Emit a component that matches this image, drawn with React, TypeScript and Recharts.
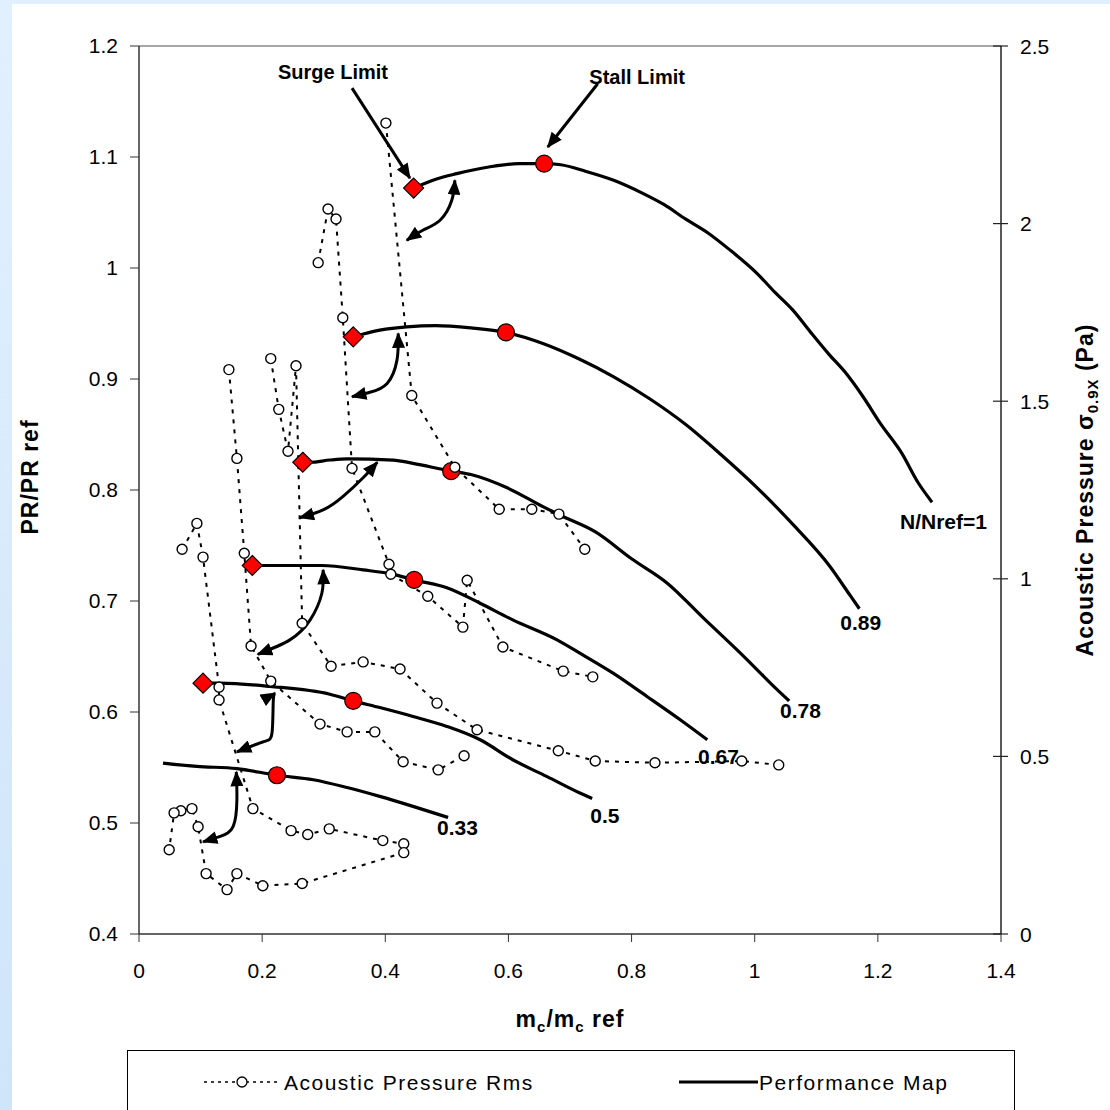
import { ComposedChart, Line, XAxis, YAxis, ReferenceLine, ReferenceDot } from "recharts";

type Pt = [number, number];

const FONT = '"Liberation Sans", Arial, sans-serif';

// Performance map, one line per corrected speed: [mc/mc ref, PR/PR ref]
const speed100: Pt[] = [
  [0.446, 1.072], [0.482, 1.08], [0.516, 1.085], [0.568, 1.091], [0.616, 1.094],
  [0.658, 1.094], [0.685, 1.093], [0.726, 1.087], [0.771, 1.079], [0.819, 1.067],
  [0.853, 1.057], [0.888, 1.044], [0.923, 1.032], [0.958, 1.017], [1.004, 0.995],
  [1.033, 0.978], [1.062, 0.962], [1.091, 0.942], [1.121, 0.922], [1.147, 0.906],
  [1.176, 0.884], [1.204, 0.86], [1.239, 0.833], [1.265, 0.807], [1.288, 0.789],
];
const speed089: Pt[] = [
  [0.348, 0.938], [0.391, 0.944], [0.435, 0.947], [0.482, 0.948], [0.539, 0.946],
  [0.596, 0.942], [0.656, 0.932], [0.715, 0.918], [0.771, 0.902], [0.83, 0.882],
  [0.888, 0.859], [0.945, 0.832], [1.004, 0.802], [1.062, 0.769], [1.121, 0.732],
  [1.155, 0.705], [1.17, 0.693],
];
const speed078: Pt[] = [
  [0.266, 0.825], [0.278, 0.825], [0.31, 0.827], [0.338, 0.828], [0.413, 0.827],
  [0.445, 0.824], [0.507, 0.817], [0.539, 0.814], [0.598, 0.802], [0.656, 0.785],
  [0.685, 0.777], [0.742, 0.762], [0.8, 0.738], [0.858, 0.716], [0.916, 0.685],
  [0.973, 0.655], [1.004, 0.638], [1.033, 0.622], [1.056, 0.61],
];
const speed067: Pt[] = [
  [0.184, 0.732], [0.297, 0.732], [0.364, 0.728], [0.413, 0.724], [0.447, 0.719],
  [0.5, 0.712], [0.554, 0.698], [0.607, 0.683], [0.679, 0.665], [0.716, 0.653],
  [0.77, 0.635], [0.825, 0.614], [0.879, 0.593], [0.923, 0.575],
];
const speed050: Pt[] = [
  [0.104, 0.626], [0.132, 0.626], [0.213, 0.623], [0.31, 0.616], [0.348, 0.61],
  [0.391, 0.604], [0.445, 0.596], [0.5, 0.587], [0.554, 0.575], [0.607, 0.557],
  [0.662, 0.542], [0.716, 0.527], [0.736, 0.522],
];
const speed033: Pt[] = [
  [0.039, 0.554], [0.094, 0.551], [0.159, 0.549], [0.224, 0.543], [0.283, 0.539],
  [0.338, 0.532], [0.391, 0.524], [0.445, 0.515], [0.502, 0.505],
];

// Acoustic pressure rms, one run per speed: [mc/mc ref, sigma 0.9X (Pa)]
const acoustic100: Pt[] = [
  [0.401, 2.283], [0.443, 1.516], [0.513, 1.314], [0.585, 1.196], [0.638, 1.196],
  [0.682, 1.182], [0.724, 1.083],
];
const acoustic089: Pt[] = [
  [0.291, 1.89], [0.307, 2.041], [0.32, 2.013], [0.331, 1.735], [0.346, 1.311],
  [0.406, 1.041], [0.409, 1.013], [0.469, 0.951], [0.526, 0.864], [0.533, 0.996],
  [0.591, 0.808], [0.689, 0.74], [0.737, 0.724],
];
const acoustic078: Pt[] = [
  [0.214, 1.62], [0.227, 1.477], [0.242, 1.359], [0.255, 1.6], [0.265, 0.875],
  [0.312, 0.754], [0.364, 0.766], [0.424, 0.746], [0.484, 0.65], [0.549, 0.575],
  [0.681, 0.516], [0.741, 0.487], [0.838, 0.482], [0.979, 0.487], [1.039, 0.476],
];
const acoustic067: Pt[] = [
  [0.146, 1.589], [0.159, 1.339], [0.171, 1.072], [0.182, 0.811], [0.214, 0.712],
  [0.294, 0.591], [0.338, 0.569], [0.383, 0.569], [0.429, 0.485], [0.486, 0.462],
  [0.528, 0.502],
];
const acoustic050: Pt[] = [
  [0.07, 1.083], [0.094, 1.156], [0.104, 1.061], [0.13, 0.695], [0.13, 0.659],
  [0.185, 0.353], [0.247, 0.291], [0.274, 0.28], [0.309, 0.296], [0.396, 0.263],
  [0.43, 0.254], [0.43, 0.229], [0.265, 0.142], [0.201, 0.136], [0.159, 0.17],
  [0.143, 0.125], [0.109, 0.17], [0.096, 0.302], [0.086, 0.353], [0.068, 0.347],
  [0.057, 0.341], [0.049, 0.237],
];

// Stall (circle) and surge (diamond) points on each speed line
const stallPoints: Pt[] = [
  [0.658, 1.094], [0.596, 0.942], [0.507, 0.817], [0.447, 0.719], [0.348, 0.61], [0.224, 0.543],
];
const surgePoints: Pt[] = [
  [0.446, 1.072], [0.348, 0.938], [0.266, 0.825], [0.184, 0.732], [0.104, 0.626],
];

// Double arrows from each speed line down to the jump in acoustic level
const jumpArrows: Pt[][] = [
  [[0.513, 1.079], [0.508, 1.061], [0.489, 1.043], [0.461, 1.034], [0.435, 1.025]],
  [[0.421, 0.941], [0.419, 0.917], [0.403, 0.896], [0.375, 0.888], [0.346, 0.884]],
  [[0.387, 0.825], [0.364, 0.811], [0.331, 0.794], [0.299, 0.782], [0.261, 0.775]],
  [[0.299, 0.728], [0.297, 0.707], [0.278, 0.683], [0.245, 0.665], [0.193, 0.652]],
  [[0.221, 0.617], [0.218, 0.609], [0.216, 0.581], [0.201, 0.573], [0.159, 0.564]],
  [[0.158, 0.546], [0.159, 0.521], [0.153, 0.497], [0.132, 0.488], [0.104, 0.483]],
];
const surgeLimitArrow: Pt[] = [[0.346, 1.162], [0.44, 1.081]];
const stallLimitArrow: Pt[] = [[0.745, 1.166], [0.664, 1.109]];

const speedLabels = ["N/Nref=1", "0.89", "0.78", "0.67", "0.5", "0.33"];
const speedLabelAt: Pt[] = [
  [1.236, 0.765], [1.139, 0.674], [1.041, 0.595], [0.908, 0.553], [0.733, 0.5], [0.484, 0.489],
];

const xTicks = [0, 0.2, 0.4, 0.6, 0.8, 1, 1.2, 1.4];
const prTicks = [0.4, 0.5, 0.6, 0.7, 0.8, 0.9, 1, 1.1, 1.2];
const acTicks = [0, 0.5, 1, 1.5, 2, 2.5];

const rows = (pts: Pt[]) => pts.map(([x, y]) => ({ x, y }));

const speedLines = [speed100, speed089, speed078, speed067, speed050, speed033];
const acousticRuns = [acoustic100, acoustic089, acoustic078, acoustic067, acoustic050];

const OpenCircle = (p: any) => (
  <circle key={`o${p.index}`} cx={p.cx} cy={p.cy} r={5} fill="#fff" stroke="#000" strokeWidth={1.4} />
);
const StallDot = (p: any) => (
  <circle key={`s${p.index}`} cx={p.cx} cy={p.cy} r={8.5} fill="#FF0000" stroke="#000" strokeWidth={1.2} />
);
const SurgeDot = (p: any) => {
  const d = 10;
  return (
    <path
      key={`d${p.index}`}
      d={`M${p.cx},${p.cy - d} L${p.cx + d},${p.cy} L${p.cx},${p.cy + d} L${p.cx - d},${p.cy} Z`}
      fill="#FF0000"
      stroke="#000"
      strokeWidth={1.2}
    />
  );
};

const RightTick = (p: any) => {
  const ax = p.x - 19;
  return (
    <g>
      <line x1={ax - 8} x2={ax + 7} y1={p.y} y2={p.y} stroke="#222" strokeWidth={1.2} />
      <text x={p.x} y={p.y} dy="0.36em" fontSize={21} fontFamily={FONT} fill="#000">
        {p.payload.value}
      </text>
    </g>
  );
};

const textLabel = (text: string, size: number, anchor: "start" | "middle") => (p: any) => (
  <text x={p.cx} y={p.cy} fontSize={size} fontWeight="bold" fontFamily={FONT} textAnchor={anchor} fill="#000">
    {text}
  </text>
);

export default function App() {
  return (
    <div style={{ position: "absolute", left: 0, top: 0, width: 1110, height: 1110, overflow: "hidden", background: "linear-gradient(#E1F0FE, #CFE5FA)" }}>
      <div style={{ position: "absolute", left: 12, top: 4, right: 0, bottom: 0, background: "#fff" }} />
      <div style={{ position: "absolute", left: 0, top: 0 }}>
        <ComposedChart width={1110} height={1045} margin={{ top: 46, right: 0, bottom: 51, left: 0 }}>
          <defs>
            <marker id="arrowHead" viewBox="0 0 12 10" refX="11" refY="5" markerWidth="16" markerHeight="13" markerUnits="userSpaceOnUse" orient="auto-start-reverse">
              <path d="M0,0 L12,5 L0,10 z" fill="#000" />
            </marker>
          </defs>
          <XAxis
            type="number"
            dataKey="x"
            domain={[0, 1.4]}
            ticks={xTicks}
            interval={0}
            height={60}
            tickSize={8}
            tickMargin={21}
            axisLine={{ stroke: "#333", strokeWidth: 1.5 }}
            tickLine={{ stroke: "#333" }}
            tick={{ fontSize: 21, fill: "#000", fontFamily: FONT }}
            label={(p: any) => {
              const vb = p.viewBox;
              return (
                <text x={vb.x + vb.width / 2} y={1027} textAnchor="middle" fontSize={23} fontWeight="bold" fontFamily={FONT} letterSpacing={1} fill="#000">
                  <tspan>m</tspan>
                  <tspan fontSize={15} dy={5}>c</tspan>
                  <tspan dy={-5}>/m</tspan>
                  <tspan fontSize={15} dy={5}>c</tspan>
                  <tspan dy={-5}> ref</tspan>
                </text>
              );
            }}
          />
          <YAxis
            yAxisId="pr"
            type="number"
            domain={[0.4, 1.2]}
            ticks={prTicks}
            interval={0}
            width={139}
            tickSize={9}
            tickMargin={12}
            axisLine={{ stroke: "#333", strokeWidth: 1.5 }}
            tickLine={{ stroke: "#333" }}
            tick={{ fontSize: 21, fill: "#000", fontFamily: FONT }}
            label={(p: any) => {
              const vb = p.viewBox;
              return (
                <text transform={`translate(${vb.x + 38}, ${vb.y + vb.height / 2 - 13}) rotate(-90)`} textAnchor="middle" fontSize={23} fontWeight="bold" fontFamily={FONT} letterSpacing={1} fill="#000">
                  PR/PR ref
                </text>
              );
            }}
          />
          <YAxis
            yAxisId="ac"
            orientation="right"
            type="number"
            domain={[0, 2.5]}
            ticks={acTicks}
            interval={0}
            width={109}
            tickSize={8}
            tickMargin={11}
            axisLine={{ stroke: "#222", strokeWidth: 1.5 }}
            tickLine={false}
            tick={RightTick}
            label={(p: any) => {
              const vb = p.viewBox;
              return (
                <text transform={`translate(${vb.x + 92}, ${vb.y + vb.height / 2}) rotate(-90)`} textAnchor="middle" fontSize={23} fontWeight="bold" fontFamily={FONT} letterSpacing={1} fill="#000">
                  <tspan>Acoustic Pressure  σ</tspan>
                  <tspan fontSize={15} dy={5}>0.9X</tspan>
                  <tspan dy={-5}> (Pa)</tspan>
                </text>
              );
            }}
          />
          <ReferenceLine yAxisId="pr" y={1.2} stroke="#888" strokeWidth={1.5} />

          {/* stall and surge markers sit under the speed lines */}
          <Line yAxisId="pr" data={rows(stallPoints)} dataKey="y" stroke="none" dot={StallDot} activeDot={false} legendType="none" isAnimationActive={false} />
          <Line yAxisId="pr" data={rows(surgePoints)} dataKey="y" stroke="none" dot={SurgeDot} activeDot={false} legendType="none" isAnimationActive={false} />

          {speedLines.map((pts, i) => (
            <Line key={`speed${i}`} yAxisId="pr" data={rows(pts)} dataKey="y" type="monotone" stroke="#000" strokeWidth={3.2} dot={false} activeDot={false} isAnimationActive={false} />
          ))}

          {jumpArrows.map((pts, i) => (
            <Line key={`jump${i}`} yAxisId="pr" data={rows(pts)} dataKey="y" type="natural" stroke="#000" strokeWidth={3} dot={false} activeDot={false} legendType="none" markerStart="url(#arrowHead)" markerEnd="url(#arrowHead)" isAnimationActive={false} />
          ))}
          <Line yAxisId="pr" data={rows(surgeLimitArrow)} dataKey="y" stroke="#000" strokeWidth={3} dot={false} activeDot={false} legendType="none" markerEnd="url(#arrowHead)" isAnimationActive={false} />
          <Line yAxisId="pr" data={rows(stallLimitArrow)} dataKey="y" stroke="#000" strokeWidth={3} dot={false} activeDot={false} legendType="none" markerEnd="url(#arrowHead)" isAnimationActive={false} />

          {acousticRuns.map((pts, i) => (
            <Line key={`ac${i}`} yAxisId="ac" data={rows(pts)} dataKey="y" type="linear" stroke="#000" strokeWidth={2} strokeDasharray="4 6" dot={OpenCircle} activeDot={false} isAnimationActive={false} />
          ))}

          <ReferenceDot yAxisId="pr" x={0.315} y={1.17} r={0} shape={textLabel("Surge Limit", 20, "middle")} />
          <ReferenceDot yAxisId="pr" x={0.809} y={1.166} r={0} shape={textLabel("Stall Limit", 20, "middle")} />
          {speedLabels.map((t, i) => (
            <ReferenceDot key={t} yAxisId="pr" x={speedLabelAt[i][0]} y={speedLabelAt[i][1]} r={0} shape={textLabel(t, 21, "start")} />
          ))}
        </ComposedChart>
      </div>
      <div style={{ position: "absolute", left: 127, top: 1050, width: 886, height: 80, border: "1px solid #000", background: "#fff" }}>
        <svg width={886} height={60} style={{ display: "block" }}>
          <line x1={76} x2={153} y1={31} y2={31} stroke="#000" strokeWidth={1.5} strokeDasharray="3 4" />
          <circle cx={114} cy={31} r={5} fill="#fff" stroke="#000" strokeWidth={1.3} />
          <text x={156} y={39} fontSize={21} fontFamily={FONT} letterSpacing={1.5} fill="#000">Acoustic Pressure Rms</text>
          <line x1={551} x2={630} y1={31} y2={31} stroke="#000" strokeWidth={3} />
          <text x={631} y={39} fontSize={21} fontFamily={FONT} letterSpacing={1.5} fill="#000">Performance Map</text>
        </svg>
      </div>
    </div>
  );
}
